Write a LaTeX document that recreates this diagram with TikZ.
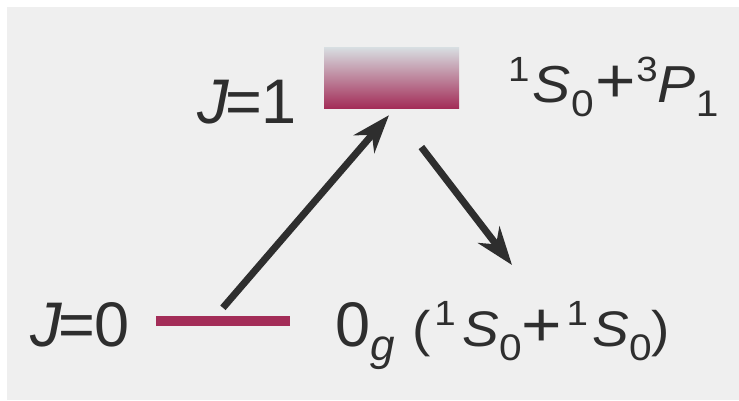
\documentclass[tikz,border=0pt]{standalone}
\usepackage{fontspec}
\setmainfont{Liberation Sans}
\usetikzlibrary{arrows.meta}
\definecolor{bggray}{HTML}{EFEFEF}
\definecolor{inkgray}{HTML}{2E2E2E}
\definecolor{levelred}{HTML}{A32D58}
\definecolor{levelfade}{HTML}{D8DFE2}
\newcommand{\supnum}[1]{\raisebox{21pt}{\fontsize{35}{35}\selectfont #1}}
\newcommand{\subnum}[1]{\raisebox{-14pt}{\fontsize{37}{37}\selectfont #1}}
\newcommand{\bigfont}{\fontsize{63}{70}\selectfont}
\newcommand{\smallfont}{\fontsize{50}{56}\selectfont}
\newcommand{\plus}{{\bigfont+}}

\begin{document}
\begin{tikzpicture}[x=1pt, y=-1pt,
	trans/.style={draw=inkgray, line width=7pt, -{Stealth[length=38pt, width=27pt, inset=12pt]}},
	lbl/.style={inner sep=0pt, anchor=base west, text=inkgray}]
	\useasboundingbox (0,0) rectangle (739,400);
	\fill[bggray] (7,7) rectangle (739,400);
	
	% levels
	\node (upper) at (391.5,77.5) [rectangle, inner sep=0pt, minimum width=135pt, minimum height=61pt, top color=levelfade, bottom color=levelred] {};
	\node (lower) at (223,321) [rectangle, inner sep=0pt, minimum width=134pt, minimum height=10pt, fill=levelred] {};
	
	% labels
	\node (jone) at (197,123) [lbl] {\bigfont\textit{J}\kern-4pt=\kern-1pt1};
	\node (jzero) at (30,346) [lbl] {\bigfont\textit{J}\kern-4pt=\kern-1pt0};
	\node (excited) at (508,102) [lbl] {\scalebox{1.1}[1]{\fontsize{52}{58}\selectfont\supnum{1}\hspace{3pt}\textit{S}\subnum{0}\hspace{2pt}\plus\supnum{3}\textit{P}\subnum{1}}};
	\node (ground) at (335,346) [lbl] {\bigfont 0{\raisebox{-14pt}{\fontsize{44}{44}\selectfont\textit{g}}}\hspace{18pt}\scalebox{1.1}[1]{\smallfont(\hspace{3pt}\supnum{1}\hspace{6pt}\textit{S}\subnum{0}\plus\hspace{4pt}\supnum{1}\hspace{4pt}\textit{S}\subnum{0})}};
	
	% transitions
	\coordinate (decay) at (512,265);
	\draw[trans, shorten <=10.6pt, shorten >=9.2pt] ([xshift=-7pt]lower.north) -- ([xshift=3.5pt]upper.south);
	\draw[trans, shorten <=49pt] (upper.south) -- (decay);
\end{tikzpicture}
\end{document}
